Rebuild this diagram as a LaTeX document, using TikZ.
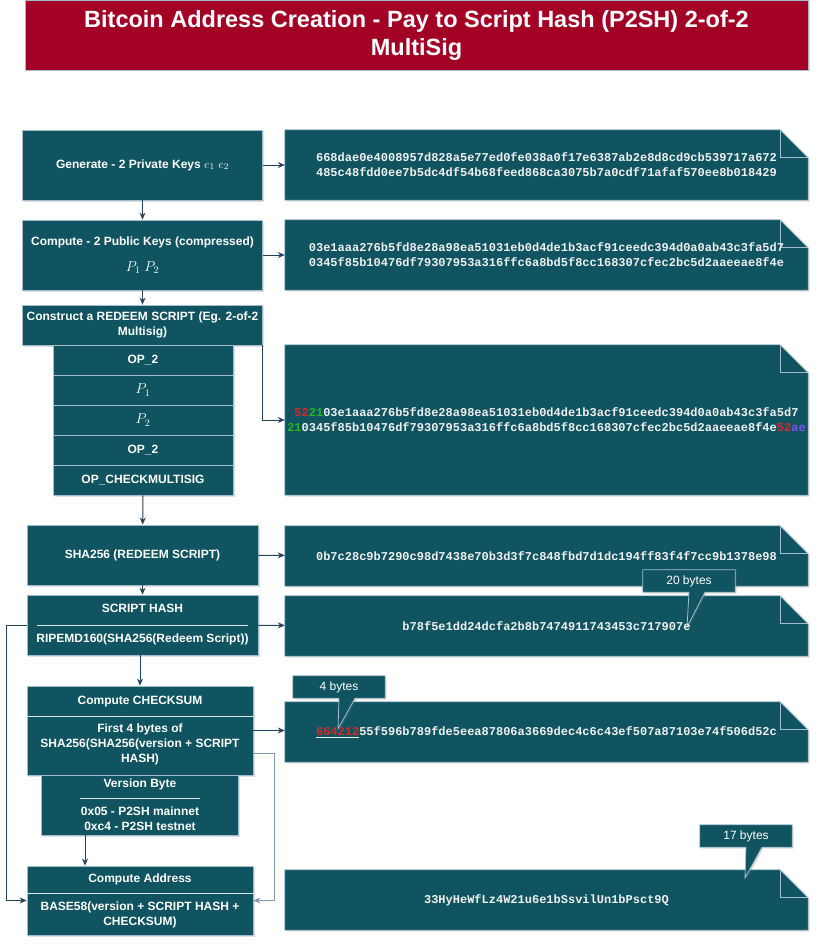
\documentclass[tikz,border=0pt]{standalone}
\usepackage{fontspec}
\setmainfont{Liberation Sans}
\setmonofont{Liberation Mono}
\usetikzlibrary{arrows.meta,positioning,calc,backgrounds,shadows}
\definecolor{boxfill}{HTML}{0F5460}
\definecolor{edge}{HTML}{A3BDCF}
\definecolor{titlered}{HTML}{A20025}
\definecolor{arrowblue}{HTML}{23445D}
\definecolor{lightline}{HTML}{7E9DB3}
\definecolor{hexred}{HTML}{D42A2A}
\definecolor{hexgreen}{HTML}{25B625}
\definecolor{hexpurple}{HTML}{7B52EE}
\tikzset{
  >={Stealth[length=7pt,width=6pt]},
  shade/.style={drop shadow={opacity=.25,shadow xshift=1.5pt,shadow yshift=-1.5pt}},
  stepbox/.style={draw=edge,fill=boxfill,line width=.8pt,text=white,align=center,inner sep=0pt,
    font=\bfseries\fontsize{12}{15}\selectfont,shade},
  rowbox/.style={stepbox,minimum width=180pt,minimum height=30pt},
  hexbox/.style={minimum width=523pt,inner sep=0pt,align=center,text=white!94!black,
    font=\ttfamily\bfseries\fontsize{12}{15}\selectfont},
  notebox/.style={draw=edge,fill=boxfill,line width=.8pt,shade},
  foldline/.style={draw=edge,line width=.8pt},
  calloutbox/.style={minimum width=92pt,minimum height=22pt,inner sep=0pt,text=white,
    font=\fontsize{12}{14}\selectfont},
  sepline/.style={draw=white!85!boxfill,line width=.8pt},
  flow/.style={->,line width=1pt,color=arrowblue},
}

\begin{document}
\begin{tikzpicture}[x=1pt,y=-1pt]
  \useasboundingbox (0,0) rectangle (825,947);

  \node[stepbox,fill=titlered,minimum width=783pt,minimum height=70pt,font=\bfseries\fontsize{23.5}{28}\selectfont]
    (title) at (416.5,35) {Bitcoin Address Creation - Pay to Script Hash (P2SH) 2-of-2\\MultiSig};

  % left column
  \node[stepbox,minimum width=240pt,minimum height=70pt] (gen) at (142.5,165)
    {Generate - 2 Private Keys {\fontsize{13}{15}\selectfont$e_1$ $e_2$}};
  \node[stepbox,minimum width=240pt,minimum height=70pt] (pub) at (142.5,255)
    {Compute - 2 Public Keys (compressed)\\[11pt]{\fontsize{14}{15}\selectfont$P_1$ $P_2$}};
  \node[stepbox,minimum width=240pt,minimum height=40pt] (redeem) at (142.5,325)
    {Construct a REDEEM SCRIPT (Eg. 2-of-2\\Multisig)};
  \foreach \nm/\txt [count=\i] in {op2a/OP\_2,pone/{\fontsize{14}{15}\selectfont$P_1$},
      ptwo/{\fontsize{14}{15}\selectfont$P_2$},op2b/OP\_2,chkmulti/OP\_CHECKMULTISIG}
    \node[rowbox] (\nm) at (143,{330+30*\i}) {\txt};
  \node[stepbox,minimum width=231pt,minimum height=60pt] (sha) at (142.5,555)
    {SHA256 (REDEEM SCRIPT)};
  \node[stepbox,minimum width=231pt,minimum height=60pt] (shash) at (142.5,625)
    {SCRIPT HASH\\[15pt]RIPEMD160(SHA256(Redeem Script))};
  \node[stepbox,minimum width=226pt,minimum height=89pt] (chk) at (140,730.5)
    {Compute CHECKSUM\\[13pt]First 4 bytes of\\SHA256(SHA256(version + SCRIPT\\HASH)};
  \node[stepbox,minimum width=197pt,minimum height=60pt] (ver) at (140,805)
    {Version Byte\\[13pt]0x05 - P2SH mainnet\\0xc4 - P2SH testnet};
  \node[stepbox,minimum width=226pt,minimum height=69pt] (addr) at (140,900.5)
    {Compute Address\\[13pt]BASE58(version + SCRIPT HASH +\\CHECKSUM)};

  \draw[sepline] ([xshift=10pt]shash.west) -- ([xshift=-10pt]shash.east);
  \draw[sepline] ([yshift=14.5pt]chk.west) -- ([yshift=14.5pt]chk.east);
  \draw[sepline] ([xshift=-60pt,yshift=7pt]ver.center) -- ([xshift=60pt,yshift=7pt]ver.center);
  \draw[sepline] ([yshift=7.5pt]addr.west) -- ([yshift=7.5pt]addr.east);

  % right column
  \node[hexbox,minimum height=70pt] (privhex) at (546.5,165)
    {668dae0e4008957d828a5e77ed0fe038a0f17e6387ab2e8d8cd9cb539717a672\\485c48fdd0ee7b5dc4df54b68feed868ca3075b7a0cdf71afaf570ee8b018429};
  \node[hexbox,minimum height=70pt] (pubhex) at (546.5,255)
    {03e1aaa276b5fd8e28a98ea51031eb0d4de1b3acf91ceedc394d0a0ab43c3fa5d7\\0345f85b10476df79307953a316ffc6a8bd5f8cc168307cfec2bc5d2aaeeae8f4e};
  \node[hexbox,minimum height=150pt] (scripthex) at (546.5,420)
    {\textcolor{hexred}{52}\textcolor{hexgreen}{21}03e1aaa276b5fd8e28a98ea51031eb0d4de1b3acf91ceedc394d0a0ab43c3fa5d7\\\textcolor{hexgreen}{21}0345f85b10476df79307953a316ffc6a8bd5f8cc168307cfec2bc5d2aaeeae8f4e\textcolor{hexred}{52}\textcolor{hexpurple}{ae}};
  \node[hexbox,minimum height=60pt] (shahex) at (546.5,556)
    {0b7c28c9b7290c98d7438e70b3d3f7c848fbd7d1dc194ff83f4f7cc9b1378e98};
  \node[hexbox,minimum height=60pt] (hashhex) at (546.5,626)
    {b78f5e1dd24dcfa2b8b7474911743453c717907e};
  \node[hexbox,minimum height=60pt] (chkhex) at (546.5,732)
    {\underline{\textcolor{hexred}{664212}}55f596b789fde5eea87806a3669dec4c6c43ef507a87103e74f506d52c};
  \node[hexbox,minimum height=60pt] (addrhex) at (546.5,900)
    {33HyHeWfLz4W21u6e1bSsvilUn1bPsct9Q};

  % callouts
  \node[calloutbox] (cb20) at (689,581) {20 bytes};
  \node[calloutbox] (cb4) at (339,687) {4 bytes};
  \node[calloutbox] (cb17) at (746,836) {17 bytes};
  \coordinate (tip20) at (687,627);
  \coordinate (tip4) at (338,729);
  \coordinate (tip17) at (745,878);

  \begin{scope}[on background layer]
    \foreach \nm in {privhex,pubhex,scripthex,shahex,hashhex,chkhex,addrhex}{
      \filldraw[notebox] (\nm.north west) -- ([xshift=-28pt]\nm.north east)
        -- ([yshift=-28pt]\nm.north east) -- (\nm.south east) -- (\nm.south west) -- cycle;
      \draw[foldline] ([xshift=-28pt]\nm.north east) |- ([yshift=-28pt]\nm.north east);
    }
    \foreach \cn/\tp in {cb20/tip20,cb4/tip4,cb17/tip17}
      \filldraw[notebox] (\cn.south west) -- (\cn.north west) -- (\cn.north east) -- (\cn.south east)
        -- ([xshift=16pt]\cn.south) -- (\tp) -- (\cn.south) -- cycle;
  \end{scope}

  % connectors
  \draw[flow] (gen) -- (privhex);
  \draw[flow] (pub) -- (pubhex);
  \draw[flow] (gen) -- (pub);
  \draw[flow] (pub) -- (redeem);
  \draw[flow] (redeem.south east) |- (scripthex.west);
  \draw[flow] (chkmulti) -- (sha);
  \draw[flow] (sha) -- (shahex);
  \draw[flow] (sha) -- (shash);
  \draw[flow] (shash) -- (hashhex);
  \draw[flow] (chk.north |- shash.south) -- (chk.north);
  \draw[flow] (chk.east) -- (chk.east -| chkhex.west);
  \draw[flow] ([xshift=-55pt]ver.south) -- ([xshift=-55pt]ver.south |- addr.north);
  \draw[flow] (shash.west) -- ++(-20,0) |- (addr.west);
  \draw[flow,color=lightline] ([yshift=-22.5pt]chk.east) -- ++(21,0) |- (addr.east);
\end{tikzpicture}
\end{document}
